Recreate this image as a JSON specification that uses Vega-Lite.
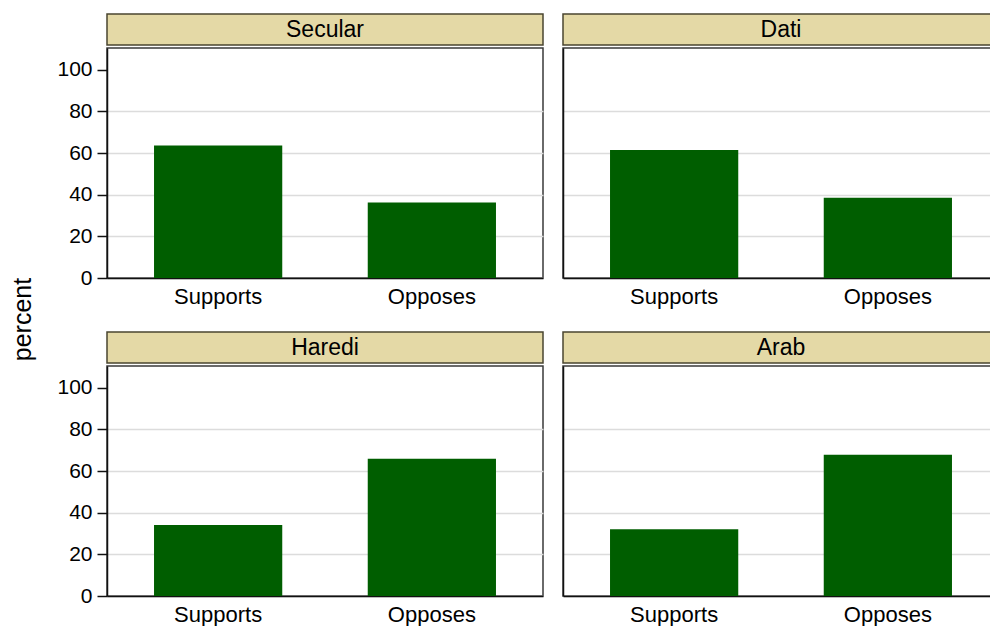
{
  "$schema": "https://vega.github.io/schema/vega-lite/v6.json",
  "background": "white",
  "padding": {"left": 11, "top": 13, "right": 0, "bottom": 0},
  "title": {"text": "percent", "orient": "left", "anchor": "middle", "fontSize": 25, "fontWeight": "normal", "color": "#000", "offset": 20},
  "datasets": {
    "bars": [
      {"group": "Secular", "response": "Supports", "percent": 63.7},
      {"group": "Secular", "response": "Opposes", "percent": 36.3},
      {"group": "Dati", "response": "Supports", "percent": 61.5},
      {"group": "Dati", "response": "Opposes", "percent": 38.5},
      {"group": "Haredi", "response": "Supports", "percent": 34.1},
      {"group": "Haredi", "response": "Opposes", "percent": 65.9},
      {"group": "Arab", "response": "Supports", "percent": 32.1},
      {"group": "Arab", "response": "Opposes", "percent": 67.9}
    ],
    "groups": [
      {"group": "Secular"},
      {"group": "Dati"},
      {"group": "Haredi"},
      {"group": "Arab"}
    ]
  },
  "spacing": 23,
  "vconcat": [
    {
      "spacing": 18,
      "hconcat": [
        {
          "spacing": 1,
          "vconcat": [
            {
              "data": {"name": "groups"},
              "transform": [{"filter": "datum.group === 'Secular'"}],
              "width": 436, "height": 31,
              "view": {"fill": "#e4d9a6", "stroke": "#4a4530", "strokeWidth": 1.5},
              "mark": {"type": "text", "fontSize": 23, "color": "#000", "baseline": "middle", "align": "center"},
              "encoding": {"text": {"field": "group", "type": "nominal"}}
            },
            {
              "data": {"name": "bars"},
              "transform": [{"filter": "datum.group === 'Secular'"}],
              "width": 436, "height": 230,
              "mark": {"type": "bar", "color": "#005e00"},
              "encoding": {
                "x": {"field": "response", "type": "nominal", "sort": ["Supports", "Opposes"], "scale": {"paddingInner": 0.4, "paddingOuter": 0.22},
                      "axis": {"title": null, "labelAngle": 0, "ticks": false, "labelFontSize": 22, "labelPadding": 8}},
                "y": {"field": "percent", "type": "quantitative", "scale": {"domain": [0, 110.5], "nice": false},
                      "axis": {"title": null, "values": [0, 20, 40, 60, 80, 100], "tickSize": 10, "labelFontSize": 21, "labelPadding": 5,
                               "gridOpacity": {"condition": {"test": "datum.value >= 100", "value": 0}, "value": 1}}}
              }
            }
          ]
        },
        {
          "spacing": 1,
          "vconcat": [
            {
              "data": {"name": "groups"},
              "transform": [{"filter": "datum.group === 'Dati'"}],
              "width": 436, "height": 31,
              "view": {"fill": "#e4d9a6", "stroke": "#4a4530", "strokeWidth": 1.5},
              "mark": {"type": "text", "fontSize": 23, "color": "#000", "baseline": "middle", "align": "center"},
              "encoding": {"text": {"field": "group", "type": "nominal"}}
            },
            {
              "data": {"name": "bars"},
              "transform": [{"filter": "datum.group === 'Dati'"}],
              "width": 436, "height": 230,
              "mark": {"type": "bar", "color": "#005e00"},
              "encoding": {
                "x": {"field": "response", "type": "nominal", "sort": ["Supports", "Opposes"], "scale": {"paddingInner": 0.4, "paddingOuter": 0.22},
                      "axis": {"title": null, "labelAngle": 0, "ticks": false, "labelFontSize": 22, "labelPadding": 8}},
                "y": {"field": "percent", "type": "quantitative", "scale": {"domain": [0, 110.5], "nice": false},
                      "axis": {"title": null, "values": [0, 20, 40, 60, 80, 100], "ticks": false, "labels": false,
                               "gridOpacity": {"condition": {"test": "datum.value >= 100", "value": 0}, "value": 1}}}
              }
            }
          ]
        }
      ]
    },
    {
      "spacing": 18,
      "hconcat": [
        {
          "spacing": 1,
          "vconcat": [
            {
              "data": {"name": "groups"},
              "transform": [{"filter": "datum.group === 'Haredi'"}],
              "width": 436, "height": 31,
              "view": {"fill": "#e4d9a6", "stroke": "#4a4530", "strokeWidth": 1.5},
              "mark": {"type": "text", "fontSize": 23, "color": "#000", "baseline": "middle", "align": "center"},
              "encoding": {"text": {"field": "group", "type": "nominal"}}
            },
            {
              "data": {"name": "bars"},
              "transform": [{"filter": "datum.group === 'Haredi'"}],
              "width": 436, "height": 230,
              "mark": {"type": "bar", "color": "#005e00"},
              "encoding": {
                "x": {"field": "response", "type": "nominal", "sort": ["Supports", "Opposes"], "scale": {"paddingInner": 0.4, "paddingOuter": 0.22},
                      "axis": {"title": null, "labelAngle": 0, "ticks": false, "labelFontSize": 22, "labelPadding": 8}},
                "y": {"field": "percent", "type": "quantitative", "scale": {"domain": [0, 110.5], "nice": false},
                      "axis": {"title": null, "values": [0, 20, 40, 60, 80, 100], "tickSize": 10, "labelFontSize": 21, "labelPadding": 5,
                               "gridOpacity": {"condition": {"test": "datum.value >= 100", "value": 0}, "value": 1}}}
              }
            }
          ]
        },
        {
          "spacing": 1,
          "vconcat": [
            {
              "data": {"name": "groups"},
              "transform": [{"filter": "datum.group === 'Arab'"}],
              "width": 436, "height": 31,
              "view": {"fill": "#e4d9a6", "stroke": "#4a4530", "strokeWidth": 1.5},
              "mark": {"type": "text", "fontSize": 23, "color": "#000", "baseline": "middle", "align": "center"},
              "encoding": {"text": {"field": "group", "type": "nominal"}}
            },
            {
              "data": {"name": "bars"},
              "transform": [{"filter": "datum.group === 'Arab'"}],
              "width": 436, "height": 230,
              "mark": {"type": "bar", "color": "#005e00"},
              "encoding": {
                "x": {"field": "response", "type": "nominal", "sort": ["Supports", "Opposes"], "scale": {"paddingInner": 0.4, "paddingOuter": 0.22},
                      "axis": {"title": null, "labelAngle": 0, "ticks": false, "labelFontSize": 22, "labelPadding": 8}},
                "y": {"field": "percent", "type": "quantitative", "scale": {"domain": [0, 110.5], "nice": false},
                      "axis": {"title": null, "values": [0, 20, 40, 60, 80, 100], "ticks": false, "labels": false,
                               "gridOpacity": {"condition": {"test": "datum.value >= 100", "value": 0}, "value": 1}}}
              }
            }
          ]
        }
      ]
    }
  ],
  "config": {
    "font": "Liberation Sans",
    "view": {"stroke": "#3a3a3a", "strokeWidth": 1.5},
    "axis": {"labelColor": "#000", "labelFont": "Liberation Sans", "domainColor": "#111", "domainWidth": 1.5, "tickColor": "#111", "tickWidth": 1.5, "gridColor": "#dcdcdc", "gridWidth": 1.5}
  }
}
